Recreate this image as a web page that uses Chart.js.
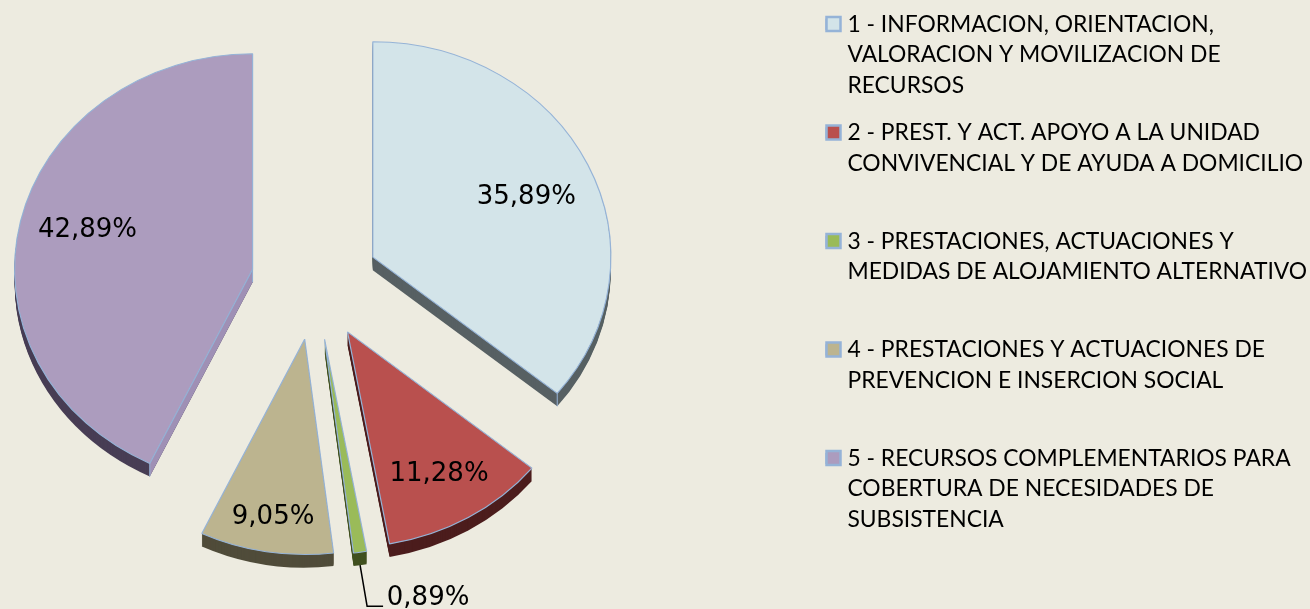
<!DOCTYPE html>
<html>
<head>
<meta charset="utf-8">
<script src="https://cdn.jsdelivr.net/npm/chart.js@4"></script>
<style>
html,body{margin:0;padding:0;background:#EDEBE0;overflow:hidden}
canvas{display:block}
</style>
</head>
<body>
<canvas id="c" width="1310" height="609"></canvas>
<script>
const categories = [
  ["1 - INFORMACION, ORIENTACION,", "VALORACION Y MOVILIZACION DE", "RECURSOS"],
  ["2 - PREST. Y ACT. APOYO A LA UNIDAD", "CONVIVENCIAL Y DE AYUDA A DOMICILIO", ""],
  ["3 - PRESTACIONES, ACTUACIONES Y", "MEDIDAS DE ALOJAMIENTO ALTERNATIVO", ""],
  ["4 - PRESTACIONES Y ACTUACIONES DE", "PREVENCION E INSERCION SOCIAL", ""],
  ["5 - RECURSOS COMPLEMENTARIOS PARA", "COBERTURA DE NECESIDADES DE", "SUBSISTENCIA"]
];
const values = [35.89, 11.28, 0.89, 9.05, 42.89];
const faceColors = ["#D3E4E9", "#B9504E", "#9ABB59", "#BCB48F", "#AC9CBE"];
const wallColors = ["#576063", "#4C1D1D", "#40501F", "#504C3A", "#483E55"];
const edgeColor = "#95B3D7";
const sideWallColor = "#9F90B5";      // lit cut face of the last slice
const labelFactors = [0.70, 0.75, 1, 0.82, 0.72];
const labelNudges = [[3, 5], [1, 3], [0, 4], [0, 4], [2, -5]];

const SQUASH = 0.905, DEPTH = 13, CX = 315, CY = 282, R = 238, OFFSET = 256;
const fmt = v => v.toFixed(2).replace(".", ",") + "%";

function squash(ctx, extraY) {
  ctx.translate(0, CY + (extraY || 0));
  ctx.scale(1, SQUASH);
  ctx.translate(0, -CY);
}
// Chart.js enlarges an exploded arc depending on its sweep; returns that growth
function growth(arc) {
  return (arc.options.offset / 4) * (1 - Math.sin(Math.min(Math.PI, arc.circumference || 0)));
}
const trueAngles = new Map();
// geometry of an exploded arc as it is finally painted
function geo(arc) {
  const shift = arc.options.offset / 4, t = trueAngles.get(arc), mid = (t[0] + t[1]) / 2;
  return {
    x: arc.x + Math.cos(mid) * shift, y: arc.y + Math.sin(mid) * shift,
    r: R, a0: t[0], a1: t[1], mid
  };
}
const toScreenY = y => CY + (y - CY) * SQUASH;

const pie3d = {
  id: "pie3d",
  afterLayout(chart) {
    chart.chartArea = { left: CX - 315, right: CX + 315, top: CY - 282, bottom: CY + 282, width: 630, height: 564 };
    chart.legend.left = 809; chart.legend.right = 1310;
    chart.legend.top = -4;   chart.legend.bottom = 605;
  },
  afterDatasetsUpdate(chart) {
    // undo the radius growth and angular trimming Chart.js applies to exploded arcs
    chart.getDatasetMeta(0).data.forEach(arc => {
      trueAngles.set(arc, [arc.startAngle, arc.endAngle]);
      const g = growth(arc), da = g / (2 * Math.PI * R);
      arc.outerRadius = R - g;
      arc.startAngle -= da;
      arc.endAngle += da;
    });
  },
  beforeDatasetsDraw(chart) {
    const ctx = chart.ctx, arcs = chart.getDatasetMeta(0).data;
    arcs.forEach((arc, i) => {
      const g = geo(arc);
      ctx.save();
      ctx.fillStyle = wallColors[i];
      for (let d = DEPTH; d >= 1; d--) {
        ctx.save();
        squash(ctx, d);
        ctx.beginPath();
        ctx.moveTo(g.x, g.y);
        ctx.arc(g.x, g.y, g.r, g.a0, g.a1);
        ctx.closePath();
        ctx.fill();
        ctx.restore();
      }
      ctx.restore();
      // screen positions of the two ends of the rim
      const ends = [g.a0, g.a1].map(a => ({ x: g.x + Math.cos(a) * g.r, y: toScreenY(g.y + Math.sin(a) * g.r) }));
      const tip = { x: g.x, y: toScreenY(g.y) };
      if (i === 4) {
        ctx.fillStyle = sideWallColor;
        ctx.beginPath();
        ctx.moveTo(tip.x, tip.y);
        ctx.lineTo(ends[0].x, ends[0].y);
        ctx.lineTo(ends[0].x, ends[0].y + DEPTH);
        ctx.lineTo(tip.x, tip.y + DEPTH);
        ctx.closePath();
        ctx.fill();
      }
      ctx.strokeStyle = edgeColor;
      ctx.lineWidth = 1;
      [ends[0], ends[1], tip].forEach((e, k) => {
        if ((i === 0 && k === 1) || (i === 4 && k !== 1)) {
          ctx.beginPath(); ctx.moveTo(e.x, e.y); ctx.lineTo(e.x, e.y + DEPTH); ctx.stroke();
        }
      });
    });
    ctx.save();
    squash(ctx, 0);
  },
  afterDatasetsDraw(chart) {
    const ctx = chart.ctx, arcs = chart.getDatasetMeta(0).data;
    ctx.restore();
    ctx.save();
    ctx.fillStyle = "#000";
    ctx.font = "26px 'DejaVu Sans'";
    ctx.textAlign = "center";
    ctx.textBaseline = "middle";
    arcs.forEach((arc, i) => {
      const g = geo(arc), f = labelFactors[i], n = labelNudges[i];
      const px = g.x + Math.cos(g.mid) * g.r * f;
      const py = toScreenY(g.y + Math.sin(g.mid) * g.r * f);
      if (i === 2) {               // small slice: outside label with leader line
        ctx.strokeStyle = "#000"; ctx.lineWidth = 1.5;
        ctx.beginPath();
        ctx.moveTo(px, py + DEPTH);
        ctx.lineTo(px + 7, py + 54);
        ctx.lineTo(px + 23, py + 54);
        ctx.stroke();
        ctx.fillText(fmt(values[i]), px + 68 + n[0], py + 42 + n[1]);
      } else {
        ctx.fillText(fmt(values[i]), px + n[0], py + n[1]);
      }
    });
    ctx.restore();
  },
  afterDraw(chart) {               // larger legend swatches, aligned on each legend entry
    const ctx = chart.ctx;
    ctx.save();
    ctx.lineWidth = 2.5;
    ctx.strokeStyle = edgeColor;
    faceColors.forEach((c, i) => {
      const y = 17 + i * 108.5;
      ctx.fillStyle = c;
      ctx.fillRect(826.5, y, 14, 14);
      ctx.strokeRect(826.5, y, 14, 14);
    });
    ctx.restore();
  }
};

new Chart(document.getElementById("c"), {
  type: "pie",
  data: {
    labels: categories,
    datasets: [{
      data: values,
      backgroundColor: faceColors,
      borderColor: edgeColor,
      borderWidth: 1.2,
      offset: OFFSET,
      hoverOffset: OFFSET,
      clip: false
    }]
  },
  options: {
    responsive: false,
    animation: false,
    events: [],
    radius: R,
    plugins: {
      tooltip: { enabled: false },
      legend: {
        position: "right",
        align: "start",
        labels: {
          boxWidth: 10,
          boxHeight: 10,
          padding: 17,
          color: "#000",
          font: { family: "Lato", size: 22.85, lineHeight: 1.335 },
          generateLabels(chart) {
            return Chart.overrides.doughnut.plugins.legend.labels.generateLabels(chart);
          }
        }
      }
    }
  },
  plugins: [pie3d]
});
</script>
</body>
</html>
